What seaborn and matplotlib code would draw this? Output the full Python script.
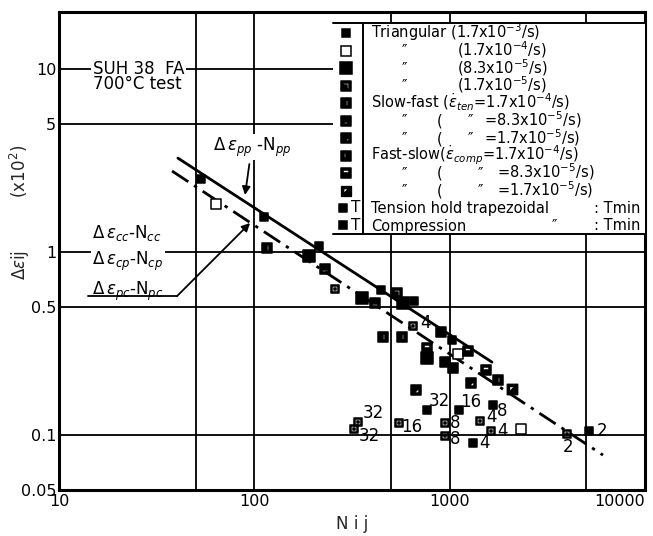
import numpy as np
import matplotlib
matplotlib.use("Agg")
import matplotlib.pyplot as plt
from matplotlib.path import Path
from matplotlib.patches import Rectangle
import seaborn as sns

# ---- data (N_ij, delta eps_ij x10^2) ----
tri_a_N = [53.4, 112, 214, 446, 657, 1028]          # triangular 1.7e-3/s
tri_a_e = [2.51, 1.55, 1.08, 0.62, 0.539, 0.33]
tri_b_N = [63.7, 1104, 2323]                        # triangular 1.7e-4/s
tri_b_e = [1.83, 0.277, 0.1076]
tri_c_N = [190.6, 356, 577, 766]                    # triangular 8.3e-5/s
tri_c_e = [0.95, 0.56, 0.526, 0.263]
tri_d_N = [538]                                     # triangular 1.7e-5/s
tri_d_e = [0.596]
sf_a_N = [116, 456, 570, 1770]                      # slow-fast 1.7e-4/s
sf_a_e = [1.05, 0.343, 0.343, 0.1994]
sf_b_N = [230, 415]                                 # slow-fast 8.3e-5/s
sf_b_e = [0.81, 0.526]
sf_c_N = [673, 1289]                                # slow-fast 1.7e-5/s
sf_c_e = [0.176, 0.192]
fs_a_N = [904, 946, 1040]                           # fast-slow 1.7e-4/s
fs_a_e = [0.365, 0.25, 0.232]
fs_b_N = [766, 1242, 1535]                          # fast-slow 8.3e-5/s
fs_b_e = [0.2985, 0.287, 0.226]
fs_c_N = [2085]                                     # fast-slow 1.7e-5/s
fs_c_e = [0.178]
ten_N = [259, 650, 340, 324, 551, 946, 946, 1432, 1630, 3990]   # tension hold
ten_e = [0.63, 0.394, 0.1175, 0.1076, 0.116, 0.116, 0.0986, 0.119, 0.105, 0.101]
ten_T = ["", "4", "32", "32", "16", "8", "8", "4", "4", "2"]
com_N = [766, 1117, 1667, 1319, 5176]                           # compression hold
com_e = [0.1367, 0.137, 0.1456, 0.0902, 0.105]
com_T = ["32", "16", "8", "4", "2"]

# fitted lines
pp_N = [40.6, 1648]
pp_e = [3.26, 0.25]
cc_N = [37.9, 6095]
cc_e = [2.77, 0.0776]

x_ticks = [10, 100, 1000, 10000]
y_ticks = [0.05, 0.1, 0.5, 1, 5, 10]
y_ticklabels = ["0.05", "0.1", "0.5", "1", "5", "10"]
grid_x = [50, 100, 500, 1000, 5000]
grid_y = [0.1, 0.5, 1, 5, 10]

D = "\u2033"
# legend rows: (x in pixels, text) pieces
legend_rows = [
    [(371, r"Triangular (1.7x10$^{-3}$/s)")],
    [(402, D), (457, r"(1.7x10$^{-4}$/s)")],
    [(402, D), (457, r"(8.3x10$^{-5}$/s)")],
    [(402, D), (457, r"(1.7x10$^{-5}$/s)")],
    [(371, r"Slow-fast ($\dot{\varepsilon}_{ten}$=1.7x10$^{-4}$/s)")],
    [(402, D), (437, "("), (468, D), (484, r"=8.3x10$^{-5}$/s)")],
    [(402, D), (437, "("), (468, D), (484, r"=1.7x10$^{-5}$/s)")],
    [(371, r"Fast-slow($\dot{\varepsilon}_{comp}$=1.7x10$^{-4}$/s)")],
    [(402, D), (437, "("), (478, D), (497, r"=8.3x10$^{-5}$/s)")],
    [(402, D), (437, "("), (478, D), (497, r"=1.7x10$^{-5}$/s)")],
    [(371, "Tension hold trapezoidal"), (594, ": Tmin")],
    [(371, "Compression"), (552, D), (594, ": Tmin")],
]

# label offsets (pixels) for hold-time numbers
ten_off = [(0, 0), (12, 3), (15, 9), (15, -7), (13, -4), (10, 0), (10, -3), (11, 4), (11, 0), (1, -13)]
com_off = [(12, 9), (12, 8), (9, -6), (11, 0), (13, 0)]

# ---- marker shapes ----
def rect(x0, y0, x1, y1):
    return [(x0, y1), (x1, y1), (x1, y0), (x0, y0)]   # clockwise = hole

def holed(*holes):
    verts = [(-1, -1), (1, -1), (1, 1), (-1, 1), (-1, -1)]
    codes = [Path.MOVETO] + [Path.LINETO] * 3 + [Path.CLOSEPOLY]
    for h in holes:
        verts += list(h) + [h[0]]
        codes += [Path.MOVETO] + [Path.LINETO] * (len(h) - 1) + [Path.CLOSEPOLY]
    return Path(verts, codes)

dot_box = Path(
    [(-1, -1), (1, -1), (1, 1), (-1, 1), (-1, -1)]
    + [(-0.6, 0.6), (0.6, 0.6), (0.6, -0.6), (-0.6, -0.6), (-0.6, 0.6)]
    + [(-0.22, -0.22), (0.22, -0.22), (0.22, 0.22), (-0.22, 0.22), (-0.22, -0.22)],
    [Path.MOVETO, Path.LINETO, Path.LINETO, Path.LINETO, Path.CLOSEPOLY] * 3)

m_tri_d = holed([(-0.55, 0.6), (0.6, 0.6), (0.6, -0.6), (0.25, -0.6), (0.25, 0.25), (-0.55, 0.25)])
m_sf_a = holed(rect(0.05, -0.6, 0.45, 0.6))
m_sf_b = holed(rect(-0.5, -0.6, 0.5, -0.2))
m_sf_c = holed([(0.6, 0.3), (0.6, -0.6), (-0.3, -0.6)])
m_fs_a = holed(rect(-0.45, -0.35, -0.1, 0.6))
m_fs_b = holed(rect(-0.6, 0.0, 0.6, 0.6))
m_fs_c = holed([(-0.6, 0.6), (0.5, 0.6), (-0.6, -0.5)])

series = [
    (tri_a_N, tri_a_e, "s", 5.6, "black"),
    (tri_b_N, tri_b_e, "s", 7.0, "white"),
    (tri_c_N, tri_c_e, "s", 8.4, "black"),
    (tri_d_N, tri_d_e, m_tri_d, 7.4, "black"),
    (sf_a_N, sf_a_e, m_sf_a, 7.4, "black"),
    (sf_b_N, sf_b_e, m_sf_b, 7.4, "black"),
    (sf_c_N, sf_c_e, m_sf_c, 7.4, "black"),
    (fs_a_N, fs_a_e, m_fs_a, 7.4, "black"),
    (fs_b_N, fs_b_e, m_fs_b, 7.4, "black"),
    (fs_c_N, fs_c_e, m_fs_c, 7.4, "black"),
    (ten_N, ten_e, dot_box, 6.2, "black"),
    (com_N, com_e, "s", 6.4, "black"),
]

# ---- style ----
sns.set_theme(style="white")
plt.rcParams.update({
    "font.family": ["DejaVu Sans"],
    "mathtext.fontset": "dejavusans",
    "axes.edgecolor": "black",
    "axes.linewidth": 2.2,
    "text.color": "black",
    "xtick.color": "black",
    "ytick.color": "black",
})

W, H = 653, 536
fig = plt.figure(figsize=(W / 100, H / 100), dpi=100)
ax = fig.add_axes([0.0904, 0.0858, 0.8973, 0.8918])
ax.set(xscale="log", yscale="log")
ax.set_xlim(10, 10000)
ax.set_ylim(0.05, 20.5)

def fx(px):
    return px / W

def fy(py):
    return 1 - py / H

for gx in grid_x:
    ax.axvline(gx, color="black", lw=1.3, zorder=1)
for gy in grid_y:
    ax.axhline(gy, color="black", lw=1.3, zorder=1)

# fitted lines
ax.plot(pp_N, pp_e, color="black", lw=2.0, zorder=2)
ax.plot(cc_N, cc_e, color="black", lw=2.0, zorder=2, linestyle=(0, (7, 2.5, 1.2, 2.5)))

# data points
for xs, ys, mk, ms, fc in series:
    sns.scatterplot(x=xs, y=ys, marker=mk, s=ms ** 2, facecolor=fc, edgecolor="black",
                    linewidth=1.1, alpha=1, ax=ax, legend=False, zorder=4)

for xs, ys, labs, offs in [(ten_N, ten_e, ten_T, ten_off), (com_N, com_e, com_T, com_off)]:
    for xv, yv, lab, off in zip(xs, ys, labs, offs):
        if lab:
            ax.annotate(lab, (xv, yv), xytext=off, textcoords="offset pixels",
                        ha="center", va="center", fontsize=12, zorder=5)

# texts and arrows
ax.text(14.9, 9.1, "SUH 38  FA\n700\u00b0C test", fontsize=12, va="center", ha="left",
        linespacing=0.85, zorder=3,
        bbox=dict(facecolor="white", edgecolor="none", pad=1.5))
ax.annotate(r"$\Delta\,\varepsilon_{pp}$ -N$_{pp}$", xy=(89.6, 2.05), xytext=(97, 3.75),
            fontsize=12, ha="center", va="center", zorder=3,
            bbox=dict(facecolor="white", edgecolor="none", pad=1),
            arrowprops=dict(arrowstyle="-|>", color="black", lw=1.3, shrinkA=3, shrinkB=0,
                            mutation_scale=12))
ax.text(14.8, 0.87,
        r"$\Delta\,\varepsilon_{cc}$-N$_{cc}$" + "\n" + r"$\Delta\,\varepsilon_{cp}$-N$_{cp}$"
        + "\n" + r"$\Delta\,\varepsilon_{pc}$-N$_{pc}$",
        fontsize=12, ha="left", va="center", linespacing=1.45, zorder=3,
        bbox=dict(facecolor="white", edgecolor="none", pad=1))
ax.plot([14.1, 40.2], [0.574, 0.574], color="black", lw=1.3, zorder=3)
ax.annotate("", xy=(95.1, 1.44), xytext=(40.2, 0.574),
            arrowprops=dict(arrowstyle="-|>", color="black", lw=1.3, shrinkA=0, shrinkB=0,
                            mutation_scale=12), zorder=3)

# axes cosmetics
ax.set_xticks(x_ticks)
ax.set_xticklabels([str(v) for v in x_ticks])
ax.get_xticklabels()[-1].set_ha("right")
ax.set_yticks(y_ticks)
ax.set_yticklabels(y_ticklabels)
ax.minorticks_off()
ax.tick_params(length=0, labelsize=11.5, pad=3)
ax.tick_params(axis="y", pad=2)
ax.set_xlabel("N i j", fontsize=12, labelpad=4)
ax.set_ylabel(r"$\Delta\varepsilon$ij          (x10$^2$)", fontsize=12)
ax.yaxis.set_label_coords(-0.046, 0.58)

# legend box drawn by hand (top/bottom rules and a separator column)
tf = fig.transFigure
ax.add_patch(Rectangle((fx(333), fy(234)), fx(645) - fx(333), fy(23) - fy(234),
                       transform=tf, facecolor="white", edgecolor="none", zorder=6))
for xs_, ys_ in [([333, 645], [23, 23]), ([333, 645], [234, 234]), ([363, 363], [23, 234])]:
    ax.plot([fx(v) for v in xs_], [fy(v) for v in ys_], transform=tf, color="black",
            lw=1.4, zorder=7, clip_on=False)
for i, (row, ser) in enumerate(zip(legend_rows, series)):
    yc = 33 + 17.5 * i
    mk, ms, fc = ser[2], ser[3], ser[4]
    kx = 343 if i >= 10 else 346
    ax.plot([fx(kx)], [fy(yc)], transform=tf, ls="none", marker=mk, markersize=ms * 0.95,
            mfc=fc, mec="black", mew=1.1, zorder=8, clip_on=False)
    if i >= 10:
        ax.text(fx(356), fy(yc), "T", transform=tf, fontsize=11, ha="center", va="center",
                zorder=8)
    for px, txt in row:
        ax.text(fx(px), fy(yc + 5), txt, transform=tf, fontsize=10.5, ha="left",
                va="baseline", zorder=8)

fig.savefig("out.png", dpi=100)
